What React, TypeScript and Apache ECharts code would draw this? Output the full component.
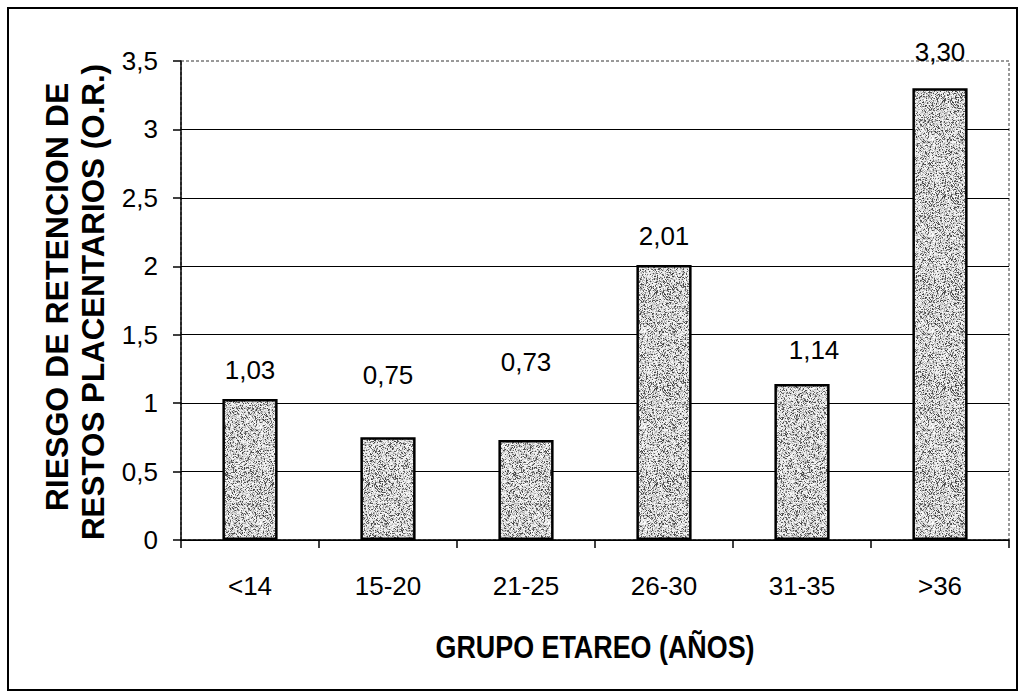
import React, { useEffect, useRef } from "react";
import * as echarts from "echarts";

// Age groups and odds ratios of retained placental tissue
const categories = ["<14", "15-20", "21-25", "26-30", "31-35", ">36"];
const riskValues = [1.03, 0.75, 0.73, 2.01, 1.14, 3.3];

// Value axis: 0 to 3,5 in steps of 0,5
const yMin = 0;
const yMax = 3.5;
const yStep = 0.5;

// Fine placement of each value label relative to its bar top [dx, dy]
const labelShift: [number, number][] = [
  [0, 0],
  [0, -33],
  [0, -49],
  [0, 0],
  [12, -5],
  [0, -7],
];

const FONT = "'Liberation Sans', Arial, Helvetica, sans-serif";

const yNameLine1 = "RIESGO DE RETENCION DE";
const yNameLine2 = "RESTOS PLACENTARIOS (O.R.)";
const xName = "GRUPO ETAREO (AÑOS)";

const comma = (v: number, d: number) => v.toFixed(d).replace(".", ",");

// Stippled grey fill for the bars, built from a deterministic hash
function makeStipple(): HTMLCanvasElement {
  const size = 96;
  const c = document.createElement("canvas");
  c.width = size;
  c.height = size;
  const ctx = c.getContext("2d")!;
  const img = ctx.createImageData(size, size);
  const hash = (x: number, y: number) => {
    let h = (x * 374761393 + y * 668265263) | 0;
    h = Math.imul(h ^ (h >>> 13), 1274126177);
    h = h ^ (h >>> 16);
    return ((h >>> 0) % 1000) / 1000;
  };
  for (let y = 0; y < size; y++) {
    for (let x = 0; x < size; x++) {
      const n = hash(x, y);
      let g: number;
      if (n < 0.2) g = 60 + n * 300;
      else if (n < 0.45) g = 160 + (n - 0.2) * 160;
      else g = 215 + (n - 0.45) * 70;
      const i = (y * size + x) * 4;
      img.data[i] = g;
      img.data[i + 1] = g;
      img.data[i + 2] = g;
      img.data[i + 3] = 255;
    }
  }
  ctx.putImageData(img, 0, 0);
  return c;
}

export default function App() {
  const ref = useRef<HTMLDivElement>(null);

  useEffect(() => {
    if (!ref.current) return;
    const chart = echarts.init(ref.current, undefined, { renderer: "svg" });
    const stipple = makeStipple();

    const nameText = (
      text: string,
      x: number,
      y: number,
      size: number,
      rotated: boolean,
      squeeze: number
    ) => ({
      type: "text",
      x,
      y,
      rotation: rotated ? Math.PI / 2 : 0,
      scaleX: squeeze,
      scaleY: 1,
      style: {
        text,
        fontFamily: FONT,
        fontWeight: "bold",
        fontSize: size,
        fill: "#000",
        align: "center",
        verticalAlign: "middle",
      },
    });

    chart.setOption({
      animation: false,
      backgroundColor: "#ffffff",
      grid: {
        left: 181,
        top: 61,
        right: 16,
        bottom: 157,
        show: true,
        borderColor: "#333",
        borderWidth: 1,
        borderType: [3, 2],
        backgroundColor: "transparent",
      },
      xAxis: {
        type: "category",
        data: categories,
        boundaryGap: true,
        axisLine: { show: true, lineStyle: { color: "#000", width: 1.5 } },
        axisTick: {
          show: true,
          alignWithLabel: false,
          length: 8,
          lineStyle: { color: "#000", width: 1.5 },
        },
        axisLabel: {
          fontFamily: FONT,
          fontSize: 26,
          color: "#000",
          margin: 33,
        },
        splitLine: { show: false },
      },
      yAxis: {
        type: "value",
        min: yMin,
        max: yMax,
        interval: yStep,
        axisLine: { show: true, lineStyle: { color: "#000", width: 1.5 } },
        axisTick: {
          show: true,
          length: 8,
          lineStyle: { color: "#000", width: 1.5 },
        },
        axisLabel: {
          fontFamily: FONT,
          fontSize: 26,
          color: "#000",
          margin: 23,
          formatter: (v: number) => (Number.isInteger(v) ? String(v) : comma(v, 1)),
        },
        splitLine: {
          show: true,
          showMaxLine: false,
          lineStyle: { color: "#000", width: 1.2 },
        },
      },
      series: [
        {
          type: "bar",
          barWidth: "40%",
          data: riskValues.map((v, i) => ({
            value: v,
            label: { offset: labelShift[i] },
          })),
          itemStyle: {
            color: { image: stipple, repeat: "repeat" },
            borderColor: "#000",
            borderWidth: 2.5,
          },
          label: {
            show: true,
            position: "top",
            distance: 16,
            fontFamily: FONT,
            fontSize: 26,
            color: "#000",
            formatter: (p: any) => comma(p.value, 2),
          },
        },
      ],
      graphic: [
        {
          type: "rect",
          shape: { x: 8, y: 8, width: 1009, height: 682 },
          style: { fill: "none", stroke: "#000", lineWidth: 2 },
          silent: true,
        },
        nameText(yNameLine1, 57, 297, 32, true, 1),
        nameText(yNameLine2, 93, 302, 32, true, 0.98),
        nameText(xName, 595, 647, 32, false, 0.84),
      ],
    });

    return () => chart.dispose();
  }, []);

  return (
    <div
      ref={ref}
      style={{ position: "fixed", left: 0, top: 0, width: 1025, height: 697 }}
    />
  );
}
